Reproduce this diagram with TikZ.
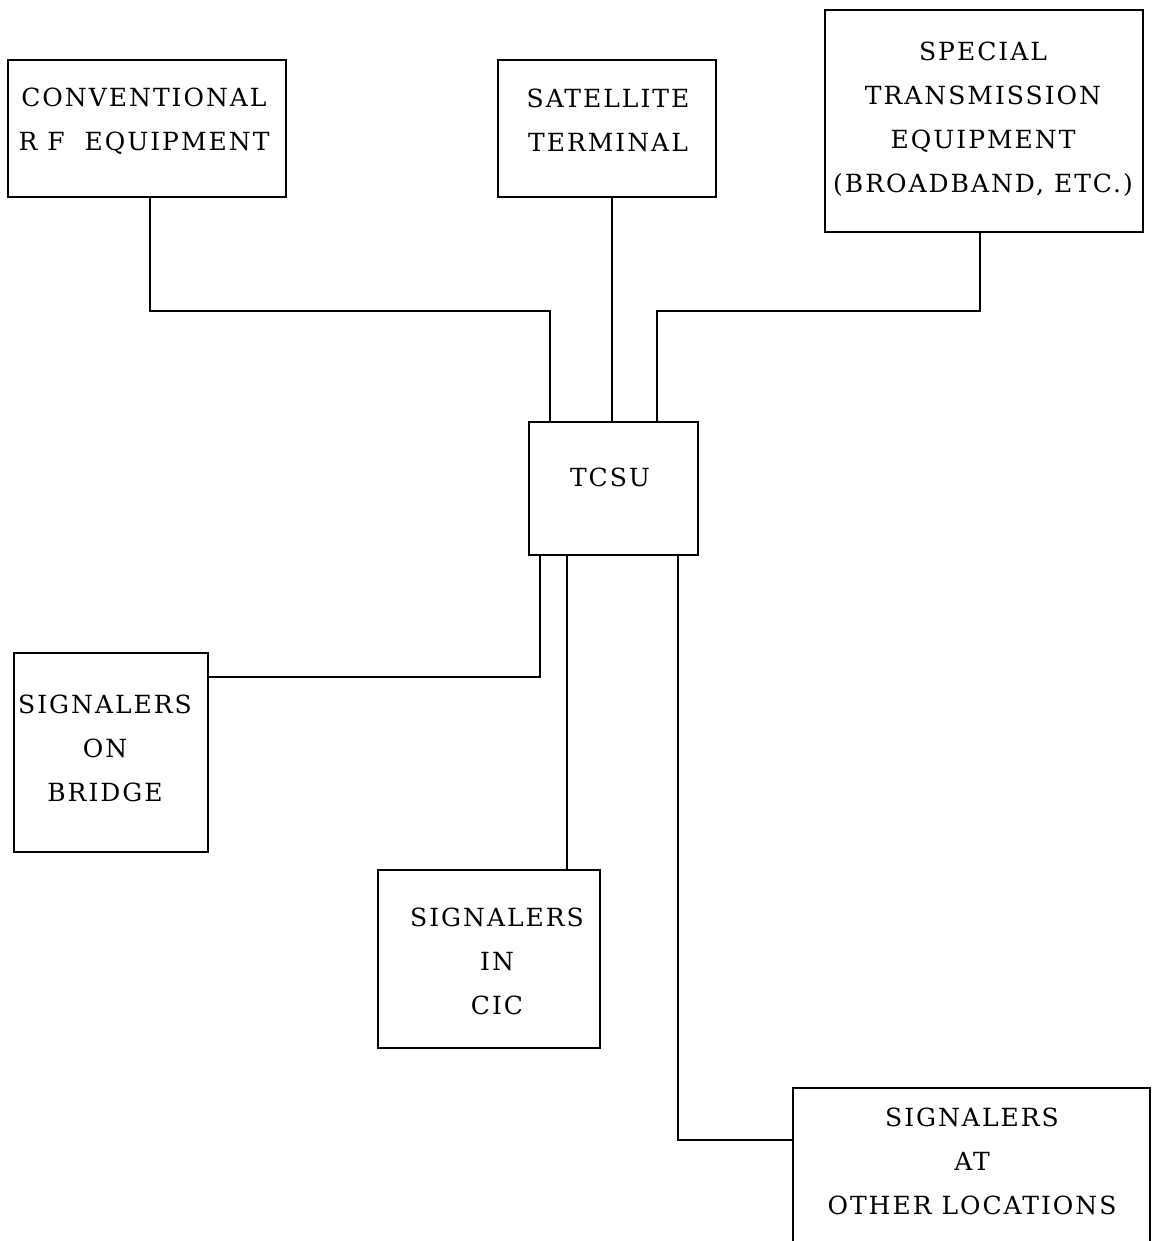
\documentclass[tikz,border=0pt]{standalone}
\usepackage{fontspec}
\setmainfont{DejaVu Serif}[LetterSpace=8]
\begin{document}
\begin{tikzpicture}[x=0.5pt,y=-0.5pt,
  box/.style={draw,line width=1.2pt,inner sep=0pt,minimum width=#1},
  lbl/.style={align=center,inner sep=0pt,font=\fontsize{12.5}{22}\selectfont},
  wire/.style={line width=1.2pt}]
\useasboundingbox (0,0) rectangle (1153,1241);
\fill[white] (0,0) rectangle (1153,1241);
\clip (0,0) rectangle (1153,1241);
% boxes
\node[box=139pt,minimum height=68.5pt] (rf) at (147,128.5) {};
\node[box=109pt,minimum height=68.5pt] (sat) at (607,128.5) {};
\node[box=159pt,minimum height=111pt] (st) at (984,121) {};
\node[box=84.5pt,minimum height=66.5pt] (tcsu) at (613.5,488.5) {};
\node[box=97pt,minimum height=99.5pt] (bridge) at (111,752.5) {};
\node[box=111pt,minimum height=89pt] (cic) at (489,959) {};
\node[box=178.5pt,minimum height=86pt] (other) at (971.5,1174) {};
% labels
\node[lbl] (trf) at (144,121.5) {CONVENTIONAL\\R F\ \ EQUIPMENT};
\node[lbl] (tsat) at (608,120) {SATELLITE\\TERMINAL};
\node[lbl] (tst) at (983,119) {SPECIAL\\TRANSMISSION\\EQUIPMENT\\(BROADBAND, ETC.)};
\node[lbl] (ttcsu) at (610,477) {TCSU};
\node[lbl] (tbridge) at (105,748) {SIGNALERS\\ON\\BRIDGE};
\node[lbl] (tcic) at (497,961) {SIGNALERS\\IN\\CIC};
\node[lbl] (tother) at (972,1161) {SIGNALERS\\AT\\OTHER LOCATIONS};
% connectors
\coordinate (k1) at (150,311);
\coordinate (k2) at (550,311);
\coordinate (k3) at (612,0);
\coordinate (k4) at (980,311);
\coordinate (k5) at (657,311);
\coordinate (k6) at (540,677);
\coordinate (k7) at (567,0);
\coordinate (k8) at (678,1140);
\draw[wire] (rf.south -| k1) -- (k1) -- (k2) -- (tcsu.north -| k2);
\draw[wire] (sat.south -| k3) -- (tcsu.north -| k3);
\draw[wire] (st.south -| k4) -- (k4) -- (k5) -- (tcsu.north -| k5);
\draw[wire] (tcsu.south -| k6) -- (k6) -- (bridge.east |- k6);
\draw[wire] (tcsu.south -| k7) -- (cic.north -| k7);
\draw[wire] (tcsu.south -| k8) -- (k8) -- (other.west |- k8);
\end{tikzpicture}
\end{document}
